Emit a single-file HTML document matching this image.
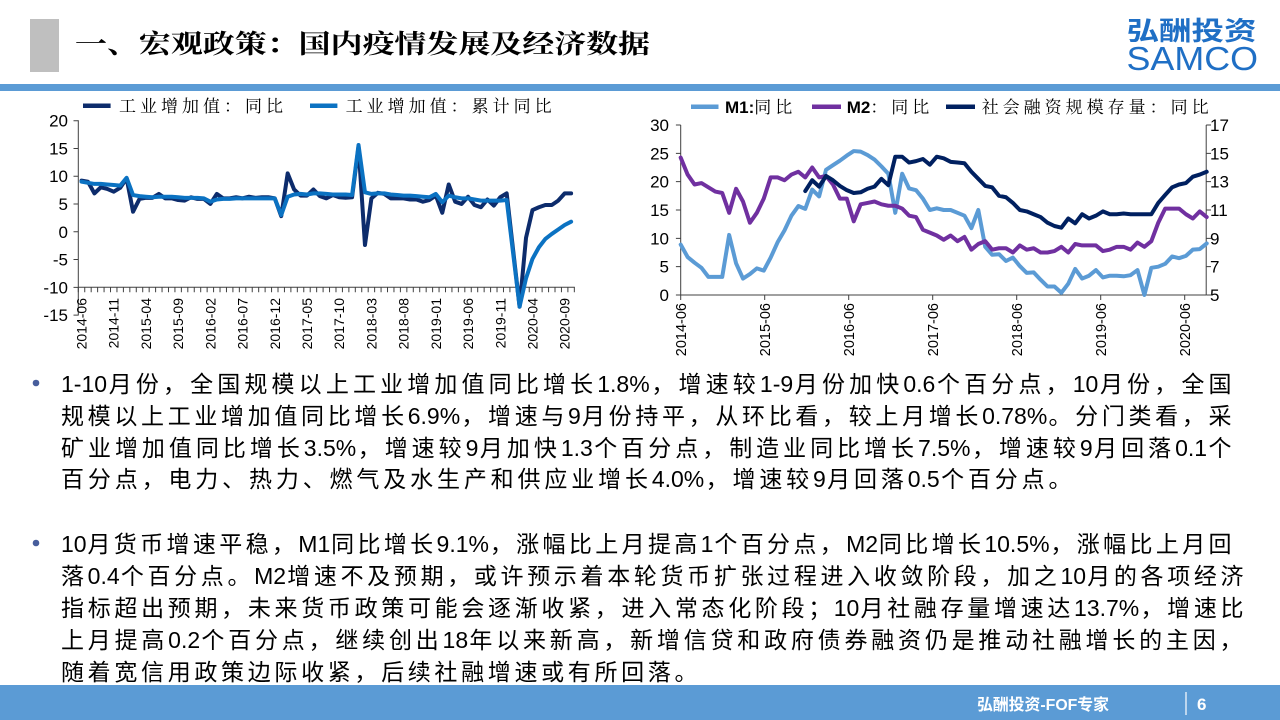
<!DOCTYPE html>
<html><head><meta charset="utf-8">
<style>
html,body{margin:0;padding:0;background:#fff;}
body{width:1280px;height:720px;position:relative;overflow:hidden;}
svg{position:absolute;left:0;top:0;}
.l{position:absolute;left:61px;height:32px;line-height:32px;font-size:23px;font-family:"Liberation Sans","Noto Sans CJK SC",sans-serif;color:#000;letter-spacing:2.5px;text-align:justify;text-align-last:justify;word-break:keep-all;}
.l i{font-style:normal;letter-spacing:0;}
</style></head><body>
<svg width="1280" height="720" viewBox="0 0 1280 720" xmlns="http://www.w3.org/2000/svg">
<!-- header -->
<rect x="30" y="19" width="29" height="53" fill="#bfbfbf"/>
<text x="75" y="53" font-family="Liberation Serif, Noto Serif CJK SC, serif" font-weight="700" font-size="26" textLength="575" lengthAdjust="spacingAndGlyphs" fill="#000">一、宏观政策：国内疫情发展及经济数据</text>
<text x="1126.5" y="40" font-family="Liberation Sans, Noto Sans CJK SC, sans-serif" font-weight="700" font-size="26" fill="#1f6fc5" textLength="130" lengthAdjust="spacingAndGlyphs">弘酬投资</text>
<text x="1126.5" y="70" font-family="Liberation Sans, sans-serif" font-size="33" fill="#1f6fc5" textLength="131.5" lengthAdjust="spacingAndGlyphs">SAMCO</text>
<rect x="0" y="84" width="1280" height="7" fill="#5b9bd5"/>

<!-- LEFT CHART -->
<g font-family="Liberation Serif, Noto Serif CJK SC, serif" font-size="17" fill="#000">
<line x1="83" y1="105.7" x2="110.6" y2="105.7" stroke="#0d2c6c" stroke-width="4.5"/>
<text x="119" y="112" letter-spacing="4">工业增加值：同比</text>
<line x1="310" y1="105.7" x2="337.4" y2="105.7" stroke="#0b72c2" stroke-width="4.5"/>
<text x="345.6" y="112" letter-spacing="4">工业增加值：累计同比</text>
</g>
<g font-family="Liberation Sans, sans-serif" font-size="17" fill="#000" text-anchor="end">
<text x="68" y="126.7">20</text>
<text x="68" y="154.5">15</text>
<text x="68" y="182.2">10</text>
<text x="68" y="210">5</text>
<text x="68" y="237.8">0</text>
<text x="68" y="265.5">-5</text>
<text x="68" y="293.3">-10</text>
<text x="68" y="321">-15</text>
</g>
<line x1="78.3" y1="120.2" x2="78.3" y2="315.5" stroke="#404040" stroke-width="1"/>
<line x1="75.9" y1="120.2" x2="75.9" y2="316" stroke="#404040" stroke-width="4.8" stroke-dasharray="1 26.77"/>
<line x1="78.3" y1="287.3" x2="574.8" y2="287.3" stroke="#404040" stroke-width="1"/>
<line x1="77.8" y1="289.8" x2="575" y2="289.8" stroke="#404040" stroke-width="5" stroke-dasharray="1 5.442"/>
<g font-family="Liberation Sans, sans-serif" font-size="14" fill="#000" text-anchor="end">
<text transform="translate(86.5,298) rotate(-90)">2014-06</text>
<text transform="translate(118.7,298) rotate(-90)">2014-11</text>
<text transform="translate(150.9,298) rotate(-90)">2015-04</text>
<text transform="translate(183.2,298) rotate(-90)">2015-09</text>
<text transform="translate(215.4,298) rotate(-90)">2016-02</text>
<text transform="translate(247.6,298) rotate(-90)">2016-07</text>
<text transform="translate(279.8,298) rotate(-90)">2016-12</text>
<text transform="translate(312,298) rotate(-90)">2017-05</text>
<text transform="translate(344.2,298) rotate(-90)">2017-10</text>
<text transform="translate(376.4,298) rotate(-90)">2018-03</text>
<text transform="translate(408.6,298) rotate(-90)">2018-08</text>
<text transform="translate(440.8,298) rotate(-90)">2019-01</text>
<text transform="translate(473,298) rotate(-90)">2019-06</text>
<text transform="translate(505.3,298) rotate(-90)">2019-11</text>
<text transform="translate(537.5,298) rotate(-90)">2020-04</text>
<text transform="translate(569.7,298) rotate(-90)">2020-09</text>
</g>
<g transform="translate(81.52,231.7) scale(6.442,-5.555)" fill="none" stroke-linejoin="round" stroke-linecap="round">
<polyline vector-effect="non-scaling-stroke" stroke="#0d2c6c" stroke-width="4" points="0,9.2 1,9 2,6.9 3,8 4,7.7 5,7.2 6,7.9 7,9.6 8,3.6 9,5.9 10,6.1 11,6.1 12,6.8 13,6 14,6 15,5.7 16,5.6 17,6.2 18,5.9 19,5.9 20,5 21,6.8 22,6 23,6 24,6.2 25,6 26,6.3 27,6.1 28,6.2 29,6.2 30,6 31,2.8 32,10.5 33,7.6 34,6.5 35,6.5 36,7.6 37,6.4 38,6 39,6.6 40,6.2 41,6.1 42,6.2 43,15.3 44,-2.4 45,6 46,7 47,6.8 48,6 49,6 50,6 51,5.8 52,5.8 53,5.4 54,5.7 55,6.5 56,3.4 57,8.5 58,5.4 59,5 60,6.3 61,4.8 62,4.4 63,5.8 64,4.7 65,6.2 66,6.9 67,-3.3 68,-13.5 69,-1.1 70,3.9 71,4.4 72,4.8 73,4.8 74,5.6 75,6.9 76,6.9"/>
<polyline vector-effect="non-scaling-stroke" stroke="#0b72c2" stroke-width="4" points="0,9 1,8.8 2,8.6 3,8.6 4,8.5 5,8.4 6,8.3 7,9.7 8,6.6 9,6.4 10,6.3 11,6.2 12,6.3 13,6.3 14,6.3 15,6.2 16,6.1 17,6.1 18,6.1 19,6 20,5.4 21,5.8 22,5.9 23,5.9 24,6 25,6 26,6 27,6 28,6 29,6 30,6 31,3 32,6.3 33,6.7 34,6.8 35,6.7 36,6.9 37,6.9 38,6.8 39,6.7 40,6.7 41,6.7 42,6.6 43,15.6 44,7.1 45,6.8 46,6.9 47,6.9 48,6.7 49,6.6 50,6.5 51,6.5 52,6.4 53,6.3 54,6.2 55,6.8 56,5.3 57,6.5 58,6.2 59,6 60,6 61,5.8 62,5.6 63,5.6 64,5.6 65,5.6 66,5.7 67,-3.9 68,-13.5 69,-8.4 70,-4.9 71,-2.8 72,-1.3 73,-0.4 74,0.4 75,1.2 76,1.8"/>
</g>

<!-- RIGHT CHART -->
<line x1="691" y1="106.7" x2="718.5" y2="106.7" stroke="#5b9bd5" stroke-width="4.5"/>
<text x="725" y="113" font-size="17"><tspan font-family="Liberation Sans, sans-serif" font-weight="700">M1:</tspan><tspan font-family="Liberation Serif, Noto Serif CJK SC, serif" letter-spacing="4">同比</tspan></text>
<line x1="812" y1="106.7" x2="841" y2="106.7" stroke="#7030a0" stroke-width="4.5"/>
<text x="846.7" y="113" font-size="17"><tspan font-family="Liberation Sans, sans-serif" font-weight="700">M2</tspan><tspan font-family="Liberation Serif, Noto Serif CJK SC, serif" letter-spacing="4">：同比</tspan></text>
<line x1="946" y1="106.7" x2="975" y2="106.7" stroke="#002060" stroke-width="4.5"/>
<text x="981.7" y="113" font-size="17" font-family="Liberation Serif, Noto Serif CJK SC, serif" letter-spacing="4">社会融资规模存量：同比</text>

<g font-family="Liberation Sans, sans-serif" font-size="17" fill="#000">
<g text-anchor="end">
<text x="669" y="131">30</text>
<text x="669" y="159.3">25</text>
<text x="669" y="187.7">20</text>
<text x="669" y="216">15</text>
<text x="669" y="244.3">10</text>
<text x="669" y="272.7">5</text>
<text x="669" y="301">0</text>
</g>
<text x="1210" y="131">17</text>
<text x="1210" y="159.3">15</text>
<text x="1210" y="187.7">13</text>
<text x="1210" y="216">11</text>
<text x="1210" y="244.3">9</text>
<text x="1210" y="272.7">7</text>
<text x="1210" y="301">5</text>
</g>
<line x1="680.7" y1="125" x2="680.7" y2="295" stroke="#404040" stroke-width="1"/>
<line x1="1206.2" y1="125" x2="1206.2" y2="295" stroke="#404040" stroke-width="1"/>
<line x1="680.7" y1="295" x2="1206.2" y2="295" stroke="#404040" stroke-width="1"/>
<line x1="678.3" y1="124.5" x2="678.3" y2="296" stroke="#404040" stroke-width="4.8" stroke-dasharray="1 27.333"/>
<line x1="1208.6" y1="124.5" x2="1208.6" y2="296" stroke="#404040" stroke-width="4.8" stroke-dasharray="1 27.333"/>
<line x1="680.2" y1="297.5" x2="1190" y2="297.5" stroke="#404040" stroke-width="5" stroke-dasharray="1 83"/>
<g font-family="Liberation Sans, sans-serif" font-size="14.5" fill="#000" text-anchor="end">
<text transform="translate(685.9,303) rotate(-90)">2014-06</text>
<text transform="translate(769.9,303) rotate(-90)">2015-06</text>
<text transform="translate(853.9,303) rotate(-90)">2016-06</text>
<text transform="translate(937.9,303) rotate(-90)">2017-06</text>
<text transform="translate(1021.9,303) rotate(-90)">2018-06</text>
<text transform="translate(1105.9,303) rotate(-90)">2019-06</text>
<text transform="translate(1189.9,303) rotate(-90)">2020-06</text>
</g>
<g fill="none" stroke-linejoin="round" stroke-linecap="round">
<g transform="translate(680.7,295) scale(6.921,-5.6667)">
<polyline vector-effect="non-scaling-stroke" stroke="#5b9bd5" stroke-width="4" points="0,8.9 1,6.7 2,5.7 3,4.8 4,3.2 5,3.2 6,3.2 7,10.6 8,5.6 9,2.9 10,3.7 11,4.7 12,4.3 13,6.6 14,9.3 15,11.4 16,14 17,15.7 18,15.2 19,18.6 20,17.4 21,22.1 22,22.9 23,23.7 24,24.6 25,25.4 26,25.3 27,24.7 28,23.9 29,22.7 30,21.4 31,14.5 32,21.4 33,18.8 34,18.5 35,17 36,15 37,15.3 38,15 39,15 40,14.5 41,14 42,11.8 43,15 44,8.5 45,7.1 46,7.2 47,6 48,6.6 49,5.1 50,3.9 51,4 52,2.7 53,1.5 54,1.5 55,0.4 56,2 57,4.6 58,2.9 59,3.4 60,4.4 61,3.1 62,3.4 63,3.4 64,3.3 65,3.5 66,4.4 67,0 68,4.8 69,5 70,5.5 71,6.8 72,6.5 73,6.9 74,8 75,8.1 76,9.1"/>
</g>
<g transform="translate(680.7,365.83) scale(6.921,-14.167)">
<polyline vector-effect="non-scaling-stroke" stroke="#7030a0" stroke-width="4" points="0,14.7 1,13.5 2,12.8 3,12.9 4,12.6 5,12.3 6,12.2 7,10.8 8,12.5 9,11.6 10,10.1 11,10.8 12,11.8 13,13.3 14,13.3 15,13.1 16,13.5 17,13.7 18,13.3 19,14 20,13.3 21,13.4 22,12.8 23,11.8 24,11.8 25,10.2 26,11.4 27,11.5 28,11.6 29,11.4 30,11.3 31,11.3 32,11.1 33,10.6 34,10.5 35,9.6 36,9.4 37,9.2 38,8.9 39,9.2 40,8.8 41,9.1 42,8.2 43,8.6 44,8.8 45,8.2 46,8.3 47,8.3 48,8 49,8.5 50,8.2 51,8.3 52,8 53,8 54,8.1 55,8.4 56,8 57,8.6 58,8.5 59,8.5 60,8.5 61,8.1 62,8.2 63,8.4 64,8.4 65,8.2 66,8.7 67,8.4 68,8.8 69,10.1 70,11.1 71,11.1 72,11.1 73,10.7 74,10.4 75,10.9 76,10.5"/>
<polyline vector-effect="non-scaling-stroke" stroke="#002060" stroke-width="4" points="18,12.34 19,13.1 20,12.65 21,13.4 22,13.1 23,12.7 24,12.4 25,12.2 26,12.25 27,12.5 28,12.65 29,13.2 30,12.75 31,14.76 32,14.76 33,14.35 34,14.45 35,14.6 36,14.2 37,14.76 38,14.65 39,14.4 40,14.35 41,14.3 42,13.7 43,13.2 44,12.7 45,12.6 46,12 47,11.9 48,11.5 49,11 50,10.9 51,10.7 52,10.5 53,10.1 54,9.87 55,9.75 56,10.4 57,10.06 58,10.7 59,10.4 60,10.6 61,10.9 62,10.7 63,10.7 64,10.75 65,10.7 66,10.7 67,10.7 68,10.7 69,11.5 70,12.06 71,12.6 72,12.8 73,12.9 74,13.35 75,13.5 76,13.7"/>
</g>
</g>

<!-- bullets -->
<circle cx="36" cy="383" r="3.3" fill="#475d9c"/>
<circle cx="36" cy="543" r="3.3" fill="#475d9c"/>

<!-- footer -->
<rect x="0" y="685" width="1280" height="35" fill="#5b9bd5"/>
<text x="977" y="710" fill="#fff" font-weight="700" font-size="16" textLength="132" lengthAdjust="spacingAndGlyphs" font-family="Liberation Sans, Noto Sans CJK SC, sans-serif">弘酬投资-FOF专家</text>
<line x1="1186" y1="692" x2="1186" y2="715" stroke="#fff" stroke-width="1.2"/>
<text x="1197" y="710" fill="#fff" font-weight="700" font-size="17" font-family="Liberation Sans, sans-serif">6</text>
</svg>

<div class="l" style="top:368px;width:1173px"><i>1-10</i>月份，全国规模以上工业增加值同比增长<i>1.8%</i>，增速较<i>1-9</i>月份加快<i>0.6</i>个百分点，<i>10</i>月份，全国</div>
<div class="l" style="top:399.8px;width:1173px">规模以上工业增加值同比增长<i>6.9%</i>，增速与<i>9</i>月份持平，从环比看，较上月增长<i>0.78%</i>。分门类看，采</div>
<div class="l" style="top:431.5px;width:1173px">矿业增加值同比增长<i>3.5%</i>，增速较<i>9</i>月加快<i>1.3</i>个百分点，制造业同比增长<i>7.5%</i>，增速较<i>9</i>月回落<i>0.1</i>个</div>
<div class="l" style="top:463.1px;width:1013px">百分点，电力、热力、燃气及水生产和供应业增长<i>4.0%</i>，增速较<i>9</i>月回落<i>0.5</i>个百分点。</div>

<div class="l" style="top:528.1px;width:1173px"><i>10</i>月货币增速平稳，<i>M1</i>同比增长<i>9.1%</i>，涨幅比上月提高<i>1</i>个百分点，<i>M2</i>同比增长<i>10.5%</i>，涨幅比上月回</div>
<div class="l" style="top:559.8px;width:1185px">落<i>0.4</i>个百分点。<i>M2</i>增速不及预期，或许预示着本轮货币扩张过程进入收敛阶段，加之<i>10</i>月的各项经济</div>
<div class="l" style="top:592.1px;width:1185px">指标超出预期，未来货币政策可能会逐渐收紧，进入常态化阶段；<i>10</i>月社融存量增速达<i>13.7%</i>，增速比</div>
<div class="l" style="top:623.8px;width:1184px">上月提高<i>0.2</i>个百分点，继续创出<i>18</i>年以来新高，新增信贷和政府债券融资仍是推动社融增长的主因，</div>
<div class="l" style="top:655.5px;width:639px">随着宽信用政策边际收紧，后续社融增速或有所回落。</div>
</body></html>
